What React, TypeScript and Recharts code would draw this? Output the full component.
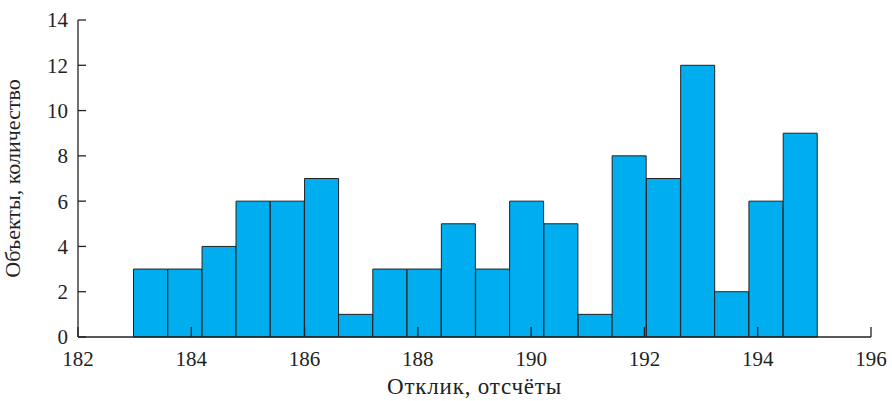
import { ComposedChart, Bar, XAxis, YAxis, Label } from "recharts";

document.body.style.margin = "0";

// histogram bin edges and counts per bin
const binEdges = [
  182.98, 183.58, 184.19, 184.79, 185.39, 186.0, 186.6, 187.2, 187.81, 188.41,
  189.02, 189.62, 190.22, 190.83, 191.43, 192.03, 192.64, 193.24, 193.84,
  194.45, 195.05,
];
const counts = [3, 3, 4, 6, 6, 7, 1, 3, 3, 5, 3, 6, 5, 1, 8, 7, 12, 2, 6, 9];
const xTicks = [182, 184, 186, 188, 190, 192, 194, 196];
const yTicks = [0, 2, 4, 6, 8, 10, 12, 14];

const data = counts.map((n, i) => ({
  x: (binEdges[i] + binEdges[i + 1]) / 2,
  n,
}));

const FONT = "Liberation Serif, DejaVu Serif, serif";
const INK = "#222";

export default function App() {
  return (
    <div style={{ width: 892, height: 401, background: "#fff", fontFamily: FONT }}>
      <ComposedChart
        width={892}
        height={401}
        data={data}
        barCategoryGap={0}
        margin={{ top: 20, right: 21, bottom: 0, left: 0 }}
        style={{ fontFamily: FONT }}
      >
        <XAxis
          dataKey="x"
          type="number"
          domain={[182, 196]}
          ticks={xTicks}
          allowDataOverflow
          tickSize={-10}
          tickMargin={24}
          tick={{ fontSize: 21, fill: INK, fontFamily: FONT }}
          axisLine={{ stroke: INK, strokeWidth: 1.3 }}
          tickLine={{ stroke: INK, strokeWidth: 1.3 }}
          height={64}
        >
          <Label
            value="Отклик, отсчёты"
            position="insideBottom"
            offset={7}
            style={{ fontSize: 23, fill: INK, fontFamily: FONT, letterSpacing: 0.8 }}
          />
        </XAxis>
        <XAxis
          xAxisId="top"
          orientation="top"
          type="number"
          domain={[182, 196]}
          height={0}
          tick={false}
          tickLine={false}
          axisLine={{ stroke: INK, strokeWidth: 1.3 }}
        />
        <YAxis
          type="number"
          domain={[0, 14]}
          ticks={yTicks}
          width={78}
          tickSize={-8}
          tickMargin={18}
          tick={{ fontSize: 21, fill: INK, fontFamily: FONT }}
          axisLine={{ stroke: INK, strokeWidth: 1.3 }}
          tickLine={{ stroke: INK, strokeWidth: 1.3 }}
        >
          <Label
            value="Объекты, количество"
            angle={-90}
            position="insideLeft"
            offset={12}
            style={{ fontSize: 22, fill: INK, fontFamily: FONT, textAnchor: "middle" }}
          />
        </YAxis>
        <YAxis
          yAxisId="right"
          orientation="right"
          width={0}
          tick={false}
          tickLine={false}
          axisLine={{ stroke: "#555", strokeWidth: 1.3 }}
        />
        <Bar
          dataKey="n"
          fill="#00AEEF"
          stroke={INK}
          strokeWidth={1}
          isAnimationActive={false}
        />
      </ComposedChart>
    </div>
  );
}
